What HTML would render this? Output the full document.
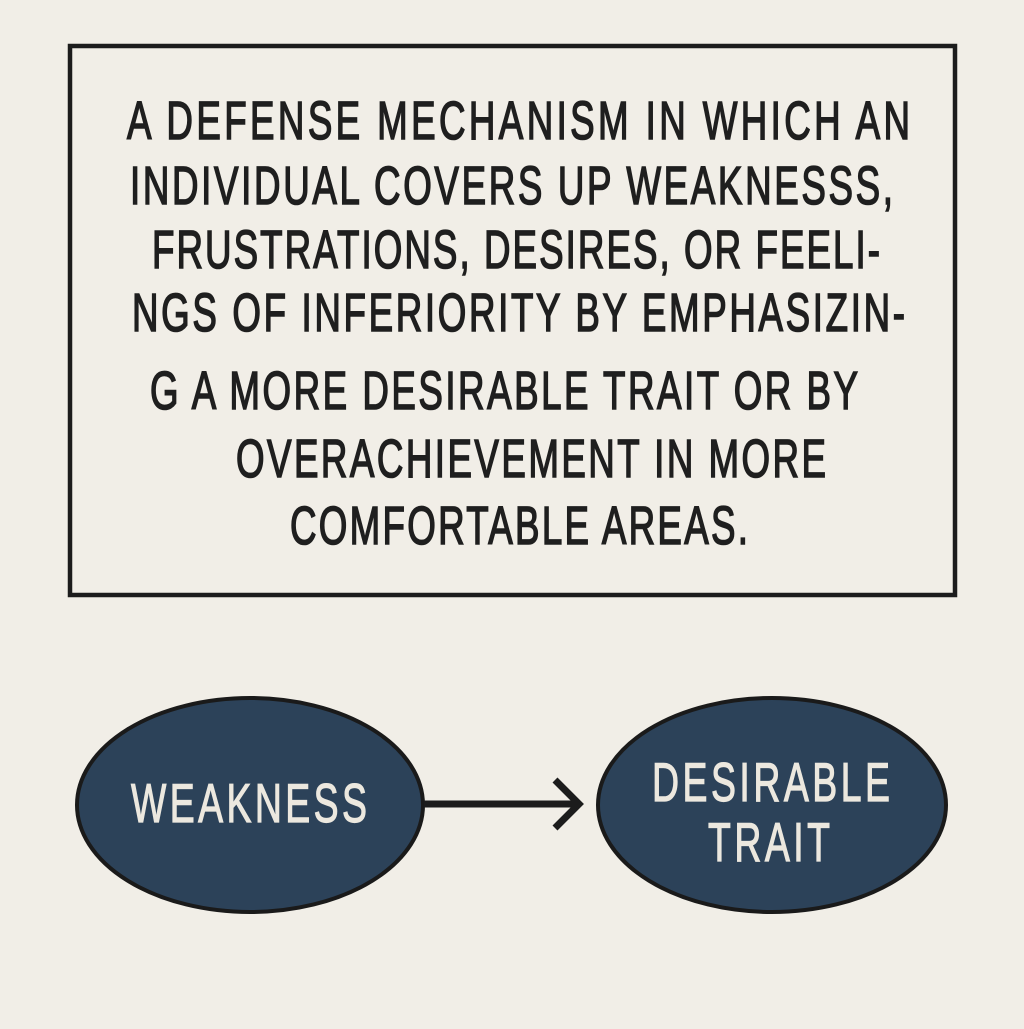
<!DOCTYPE html>
<html><head><style>html,body{margin:0;padding:0;background:#f1eee7}</style></head>
<body>
<svg width="1024" height="1024" viewBox="0 0 1024 1024" xmlns="http://www.w3.org/2000/svg">
<rect width="1024" height="1024" fill="#f1eee7"/>
<rect x="70" y="46" width="885" height="549" fill="none" stroke="#1c1c1c" stroke-width="4.5"/>
<g transform="scale(0.68,1)" font-family="'Liberation Sans', sans-serif" font-size="54" fill="#1f1f1f" stroke="#1f1f1f" stroke-width="1.6">
<text x="186.76" y="139" textLength="1151.47" lengthAdjust="spacing">A DEFENSE MECHANISM IN WHICH AN</text>
<text x="191.18" y="204" textLength="1122.06" lengthAdjust="spacing">INDIVIDUAL COVERS UP WEAKNESSS,</text>
<text x="223.53" y="268" textLength="1070.59" lengthAdjust="spacing">FRUSTRATIONS, DESIRES, OR FEELI-</text>
<text x="194.12" y="331" textLength="1136.76" lengthAdjust="spacing">NGS OF INFERIORITY BY EMPHASIZIN-</text>
<text x="220.59" y="409" textLength="1041.18" lengthAdjust="spacing">G A MORE DESIRABLE TRAIT OR BY</text>
<text x="347.06" y="477" textLength="867.65" lengthAdjust="spacing">OVERACHIEVEMENT IN MORE</text>
<text x="426.47" y="544" textLength="673.53" lengthAdjust="spacing">COMFORTABLE AREAS.</text>
</g>
<ellipse cx="250" cy="805" rx="173" ry="107" fill="#2c4259" stroke="#1a1a1a" stroke-width="4"/>
<ellipse cx="772" cy="805" rx="174" ry="107" fill="#2c4259" stroke="#1a1a1a" stroke-width="4"/>
<line x1="424" y1="804" x2="578" y2="804" stroke="#1c1c1c" stroke-width="7"/>
<polyline points="555,780 579,804 555,828" fill="none" stroke="#1c1c1c" stroke-width="7"/>
<g transform="scale(0.68,1)" font-family="'Liberation Sans', sans-serif" font-size="55" fill="#ece8df" stroke="#ece8df" stroke-width="1.2">
<text x="192.65" y="822" textLength="347.06" lengthAdjust="spacing">WEAKNESS</text>
<text x="958.82" y="801" textLength="350" lengthAdjust="spacing">DESIRABLE</text>
<text x="1041.18" y="861" textLength="179.41" lengthAdjust="spacing">TRAIT</text>
</g>
</svg>
</body></html>
